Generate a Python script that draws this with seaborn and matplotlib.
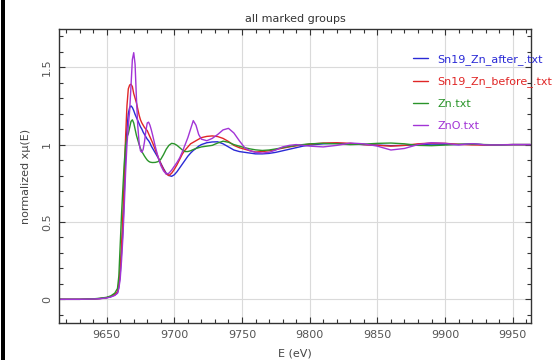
import numpy as np
import pandas as pd
import matplotlib
matplotlib.use("Agg")
import matplotlib.pyplot as plt
import seaborn as sns
from matplotlib.ticker import MultipleLocator
from matplotlib.patches import Rectangle

# ---------------- data ----------------
energy = [9615, 9630, 9640, 9645, 9650, 9653, 9656,
          9658, 9659, 9660, 9661, 9662, 9663, 9664, 9665, 9666, 9667, 9668, 9669,
          9670, 9671, 9672, 9673, 9674, 9675, 9676, 9677, 9678, 9679, 9680, 9681,
          9682, 9683, 9684,
          9686, 9688, 9690, 9692, 9694, 9696, 9698, 9700, 9702, 9704, 9706, 9708,
          9710, 9712, 9714, 9716, 9718, 9720,
          9724, 9728, 9732, 9736, 9740, 9744, 9748, 9752, 9756, 9760,
          9765, 9770, 9775, 9780, 9785, 9790, 9795, 9800,
          9810, 9820, 9830, 9840, 9850, 9860, 9870, 9880, 9890, 9900, 9910, 9920,
          9930, 9940, 9950, 9960, 9963]

after_txt = [0, 0, 0.002, 0.005, 0.01, 0.017, 0.028,
             0.04, 0.08, 0.16, 0.3, 0.45, 0.68, 0.92, 1.1, 1.2, 1.24, 1.25, 1.24,
             1.22, 1.195, 1.175, 1.155, 1.135, 1.115, 1.1, 1.08, 1.065, 1.05, 1.035, 1.025,
             1.01, 0.99, 0.975,
             0.945, 0.915, 0.88, 0.845, 0.815, 0.8, 0.795, 0.805, 0.825, 0.85, 0.875, 0.9,
             0.925, 0.945, 0.962, 0.975, 0.99, 1.0,
             1.012, 1.017, 1.018, 1.005, 0.985, 0.965, 0.955, 0.95, 0.945, 0.94,
             0.94, 0.943, 0.95, 0.96, 0.97, 0.98, 0.99, 0.997,
             1.005, 1.008, 1.005, 1.0, 0.997, 0.993, 0.995, 1.0, 1.003, 1.002, 1.0, 1.005,
             0.998, 0.998, 1.0, 1.0, 1.0]

before_txt = [0, 0, 0.002, 0.005, 0.011, 0.019, 0.032,
              0.05, 0.1, 0.2, 0.35, 0.55, 0.8, 1.05, 1.25, 1.36, 1.385, 1.39, 1.375,
              1.33, 1.3, 1.27, 1.23, 1.19, 1.16, 1.14, 1.125, 1.11, 1.1, 1.09, 1.07,
              1.05, 1.03, 1.01,
              0.965, 0.92, 0.875, 0.84, 0.81, 0.8, 0.815, 0.84, 0.87, 0.905, 0.94, 0.965,
              0.985, 1.005, 1.015, 1.025, 1.035, 1.045,
              1.053, 1.056, 1.052, 1.04, 1.02, 0.995, 0.98, 0.97, 0.96, 0.952,
              0.955, 0.96, 0.968, 0.977, 0.985, 0.992, 0.998, 1.003,
              1.01, 1.012, 1.008, 1.0, 0.995, 0.99, 0.995, 1.005, 1.01, 1.008, 1.002, 0.998,
              0.997, 0.999, 1.0, 1.0, 1.0]

zn_txt = [0, 0, 0.003, 0.007, 0.013, 0.022, 0.04,
          0.07, 0.15, 0.35, 0.55, 0.72, 0.88, 1.0, 1.05, 1.07, 1.11, 1.15, 1.16,
          1.14, 1.1, 1.06, 1.03, 1.0, 0.975, 0.955, 0.94, 0.925, 0.912, 0.9, 0.892,
          0.887, 0.885, 0.884,
          0.885, 0.89, 0.905, 0.935, 0.97, 0.995, 1.008, 1.005, 0.995, 0.98, 0.965, 0.955,
          0.955, 0.96, 0.968, 0.975, 0.98, 0.985,
          0.99, 0.995, 1.01, 1.022, 1.015, 1.0, 0.99, 0.98, 0.972, 0.966,
          0.962, 0.965, 0.972, 0.98, 0.988, 0.995, 1.0, 1.005,
          1.008, 1.005, 1.0, 1.003, 1.008, 1.01, 1.005, 0.995, 0.993, 0.997, 1.002, 1.003,
          1.0, 0.998, 1.0, 1.0, 1.0]

zno_txt = [0, 0, 0.002, 0.004, 0.009, 0.015, 0.025,
           0.04, 0.07, 0.13, 0.25, 0.4, 0.6, 0.82, 1.0, 1.12, 1.22, 1.38, 1.55,
           1.594, 1.52, 1.3, 1.12, 1.01, 0.96, 0.95, 0.97, 1.02, 1.09, 1.14, 1.145,
           1.125, 1.095, 1.06,
           0.985, 0.92, 0.865, 0.83, 0.81, 0.815, 0.835, 0.86, 0.885, 0.915, 0.955, 1.0,
           1.045, 1.1, 1.155, 1.125, 1.065, 1.035,
           1.025, 1.04, 1.065, 1.095, 1.105, 1.075, 1.025, 0.98, 0.96, 0.95,
           0.945, 0.95, 0.965, 0.985, 0.995, 1.0, 0.995, 0.99,
           0.985, 0.995, 1.01, 1.005, 0.99, 0.965, 0.975, 1.0, 1.012, 1.008, 0.998, 1.006,
           0.998, 0.998, 1.0, 1.0, 1.0]

group_names = ["Sn19_Zn_after_.txt", "Sn19_Zn_before_.txt", "Zn.txt", "ZnO.txt"]
group_colors = ["#2a2ad6", "#e02626", "#2a942a", "#a234d6"]
x_ticks = [9650, 9700, 9750, 9800, 9850, 9900, 9950]
y_ticks = [0, 0.5, 1, 1.5]
y_tick_labels = ["0", "0.5", "1", "1.5"]

# ---------------- build table ----------------
series = [after_txt, before_txt, zn_txt, zno_txt]
frames = []
for name, vals in zip(group_names, series):
    frames.append(pd.DataFrame({"E": energy, "mu": vals, "group": name}))
df = pd.concat(frames, ignore_index=True)

# ---------------- plot ----------------
sns.set_theme(style="white")
plt.rcParams["font.family"] = ["DejaVu Sans"]

W, H = 553, 360
fig = plt.figure(figsize=(W / 100, H / 100), dpi=100)
fig.patch.set_facecolor("white")
L, R, T, B = 59, 531, 29, 323
ax = fig.add_axes([L / W, 1 - B / H, (R - L) / W, (B - T) / H])

sns.lineplot(data=df, x="E", y="mu", hue="group", hue_order=group_names,
             palette=group_colors, estimator=None, sort=False, linewidth=1.0,
             legend=False, ax=ax)

ax.set_xlim(9614.8, 9963.5)
ax.set_ylim(-0.153, 1.747)
ax.set_xticks(x_ticks)
ax.set_yticks(y_ticks)
ax.set_yticklabels(y_tick_labels, rotation=90, va="center")
ax.xaxis.set_minor_locator(MultipleLocator(10))
ax.yaxis.set_minor_locator(MultipleLocator(0.1))
ax.tick_params(which="both", direction="in", top=True, right=True,
               bottom=True, left=True, color="#333333", width=0.8)
ax.tick_params(which="major", length=4, labelsize=8, labelcolor="#555555", pad=5)
ax.tick_params(which="minor", length=3)
ax.grid(True, which="major", color="#dadada", linewidth=0.8)
ax.set_axisbelow(True)
for s in ax.spines.values():
    s.set_color("#333333")
    s.set_linewidth(1.0)

ax.set_xlabel("E (eV)", fontsize=8, color="#444444", labelpad=6)
ax.set_ylabel("normalized xμ(E)", fontsize=8, color="#444444", labelpad=8)
ax.set_title("all marked groups", fontsize=8, color="#333333", pad=5)

handles = ax.lines[:4]
leg = ax.legend(handles, group_names, loc="upper left",
                bbox_to_anchor=(413 / W, 1 - 54 / H), bbox_transform=fig.transFigure,
                frameon=False, fontsize=8, handlelength=1.35, handletextpad=0.85,
                labelspacing=1.05, borderpad=0, borderaxespad=0, labelcolor="linecolor")
leg.set_clip_on(False)

# left dark border from the screenshot
fig.add_artist(Rectangle((1 / W, 0), 4 / W, 1, transform=fig.transFigure,
                         facecolor="black", edgecolor="none"))

fig.savefig("out.png", dpi=100)
